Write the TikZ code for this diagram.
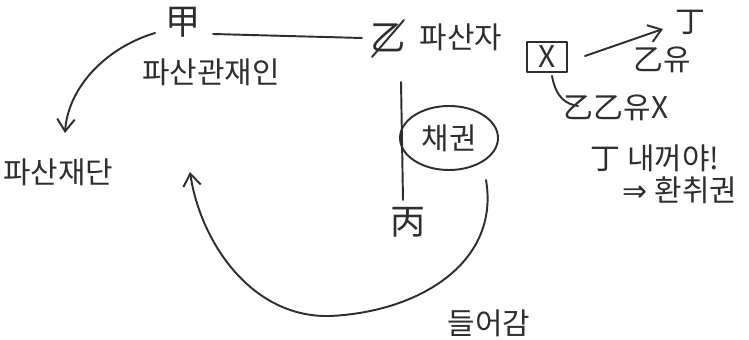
\documentclass[tikz,border=0pt]{standalone}
\usepackage{fontspec}
\setmainfont{Noto Sans CJK KR}
\newfontfamily\symfont{DejaVu Sans}
\usetikzlibrary{arrows.meta,shapes.geometric}
\definecolor{ink}{HTML}{2E2E2E}
\tikzset{
  ink/.style={draw=ink, line width=1.1pt, line cap=round, line join=round},
  lbl/.style={text=ink, font=\fontsize{17}{19}\selectfont, inner sep=1pt},
  big/.style={text=ink, font=\fontsize{20}{22}\selectfont, inner sep=1pt},
  tip/.style={-{Straight Barb[length=7pt,width=10pt]}},
}
\begin{document}
\begin{tikzpicture}[x=0.02cm,y=-0.02cm]
\useasboundingbox[fill=white] (0,0) rectangle (749,340);
% top left
\node[big] (gap) at (183,22) {甲};
\node[lbl] (gwan) at (211,72) {파산관재인};
\node[big] (eul) at (388,38) {乙};
\draw[ink] (372,57) -- (404,20);
\node[lbl] (pasanja) at (461,37) {파산자};
\coordinate (l1) at (213,34);
\coordinate (l2) at (362,38);
\draw[ink] (l1) -- (l2);
% 파산재단
\node[lbl] (jaedan) at (58,172) {파산재단};
\coordinate (c1) at (155,33);
\coordinate (c2) at (65,133);
\draw[ink,tip] (c1) .. controls (105,48) and (68,88) .. (c2);
% vertical line, claim, 丙
\coordinate (vtop) at (401,82);
\coordinate (vbot) at (403,200);
\draw[ink] (vtop) -- (vbot);
\node[ink, ellipse, minimum width=98*0.02cm, minimum height=64*0.02cm, lbl, draw=ink] (chae) at (449,138) {채권};
\node[big] (byeong) at (408,222) {丙};
% big curve into 파산재단
\coordinate (s2) at (486,180);
\coordinate (e2) at (190,172);
\draw[ink,tip] (s2) .. controls (500,262) and (420,312) .. (330,316)
  .. controls (250,318) and (200,240) .. (e2);
\node[lbl] (deul) at (489,323) {들어감};
% right side
\node[ink, draw=ink, lbl, minimum width=40*0.02cm, minimum height=30*0.02cm] (xbox) at (547,57) {X};
\node[lbl] (jeong) at (690,22) {丁};
\coordinate (a1) at (585,56);
\coordinate (a2) at (663,29);
\draw[ink,tip] (a1) -- (a2);
\node[lbl] (eulyu) at (662,60) {乙유};
\coordinate (b1) at (552,76);
\draw[ink] (b1) .. controls (556,98) and (566,104) .. (578,106);
\node[lbl] (eeulyu) at (616,108) {乙乙유X};
\node[lbl] (mine) at (655,158) {丁 내꺼야!};
\node[lbl] (hwan) at (680,190) {{\symfont ⇒} 환취권};
\end{tikzpicture}
\end{document}
